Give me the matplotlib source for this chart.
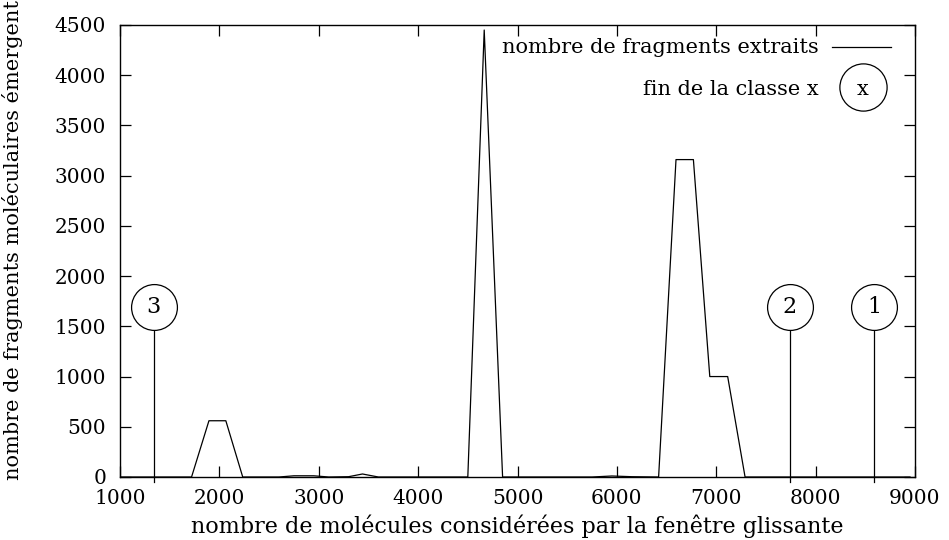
import matplotlib
matplotlib.use("Agg")
import matplotlib.pyplot as plt
from matplotlib.lines import Line2D

# ---- data ----
window_sizes = [1000, 1720, 1895, 2065, 2235, 2600, 2750, 2950, 3100, 3300, 3440, 3600,
                4500, 4665, 4850, 5750, 5950, 6150, 6420, 6595, 6770, 6935, 7115, 7290, 8950]
fragments = [0, 0, 560, 560, 0, 0, 12, 12, 0, 3, 30, 0,
             0, 4450, 0, 0, 10, 3, 0, 3160, 3160, 1000, 1000, 0, 0]

class_ends = [1340, 7740, 8590]
class_labels = ["3", "2", "1"]
class_marker_y = 1690

xticks = [1000, 2000, 3000, 4000, 5000, 6000, 7000, 8000, 9000]
yticks = [0, 500, 1000, 1500, 2000, 2500, 3000, 3500, 4000, 4500]

FONT = "DejaVu Serif"
plt.rcParams["font.family"] = FONT

fig = plt.figure(figsize=(9.49, 5.40), dpi=100)
ax = fig.add_axes([120/949, 63/540, 795/949, 452/540])

ax.plot(window_sizes, fragments, color="black", lw=0.9)

# class end markers
for xe, lab in zip(class_ends, class_labels):
    ax.plot([xe, xe], [-50, class_marker_y - 230], color="black", lw=0.9, clip_on=False)
    ax.plot([xe], [class_marker_y], marker="o", ms=33, mfc="white", mec="black",
            mew=0.9, clip_on=False, zorder=5)
    ax.text(xe, class_marker_y, lab, ha="center", va="center", fontsize=16, zorder=6)

ax.set_xlim(1000, 9000)
ax.set_ylim(0, 4500)
ax.set_xticks(xticks)
ax.set_yticks(yticks)
ax.tick_params(direction="in", length=8, width=0.9, top=True, right=True,
               labelsize=14.5, pad=9)
ax.tick_params(axis="y", pad=10)
for s in ax.spines.values():
    s.set_linewidth(1.0)

ax.set_xlabel("nombre de molécules considérées par la fenêtre glissante", fontsize=16)
ax.set_ylabel("nombre de fragments moléculaires émergent", fontsize=15)
ax.xaxis.set_label_coords(0.5, -0.083)
ax.yaxis.set_label_coords(-0.122, 0.525)

# legend (manual, gnuplot style)
ax.text(0.879, 0.951, "nombre de fragments extraits", transform=ax.transAxes,
        ha="right", va="center", fontsize=15)
ax.add_line(Line2D([0.895, 0.97], [0.951, 0.951], transform=ax.transAxes,
                   color="black", lw=0.9))
ax.text(0.879, 0.858, "fin de la classe x", transform=ax.transAxes,
        ha="right", va="center", fontsize=15)
ax.plot([0.934], [0.862], transform=ax.transAxes, marker="o", ms=34, mfc="white",
        mec="black", mew=0.9, clip_on=False)
ax.text(0.934, 0.858, "x", transform=ax.transAxes, ha="center", va="center", fontsize=15)

fig.savefig("out.png", dpi=100)
